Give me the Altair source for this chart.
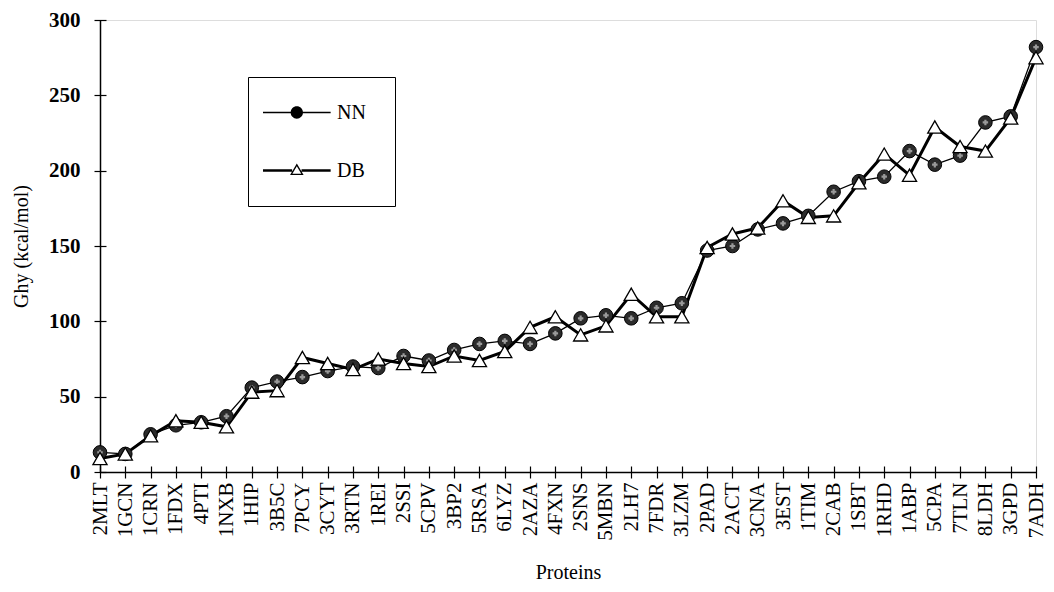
import altair as alt
import pandas as pd

proteins = ["2MLT", "1GCN", "1CRN", "1FDX", "4PTI", "1NXB", "1HIP", "3B5C", "7PCY", "3CYT",
            "3RTN", "1REI", "2SSI", "5CPV", "3BP2", "5RSA", "6LYZ", "2AZA", "4FXN", "2SNS",
            "5MBN", "2LH7", "7FDR", "3LZM", "2PAD", "2ACT", "3CNA", "3EST", "1TIM", "2CAB",
            "1SBT", "1RHD", "1ABP", "5CPA", "7TLN", "8LDH", "3GPD", "7ADH"]
nn_values = [13, 12, 25, 31, 33, 37, 56, 60, 63, 67,
             70, 69, 77, 74, 81, 85, 87, 85, 92, 102,
             104, 102, 109, 112, 147, 150, 161, 165, 170, 186,
             193, 196, 213, 204, 210, 232, 236, 282]
db_values = [9, 12, 24, 34, 33, 30, 53, 54, 76, 72,
             68, 75, 72, 70, 77, 74, 80, 96, 103, 91,
             97, 118, 103, 103, 149, 158, 162, 180, 169, 170,
             192, 211, 197, 229, 216, 213, 235, 275]
series_names = ["NN", "DB"]
y_ticks = [0, 50, 100, 150, 200, 250, 300]

rows = []
for p, a, b in zip(proteins, nn_values, db_values):
    rows.append({"protein": p, "series": "NN", "value": a})
    rows.append({"protein": p, "series": "DB", "value": b})
df = pd.DataFrame(rows)

FONT = "Liberation Serif"

x_scale = alt.Scale(type="point", padding=0, domain=proteins)
y_scale = alt.Scale(domain=[0, 300], nice=False, zero=True)

axis_x_main = alt.Axis(title="Proteins", labelAngle=270, ticks=False, tickSize=0, domain=True,
                       domainColor="black", domainWidth=1.5, labelFont=FONT, labelFontSize=21,
                       labelColor="black", labelPadding=10, titleFont=FONT, titleFontSize=20,
                       titleFontWeight="normal", titleColor="black", titlePadding=22, grid=False)
axis_x_ticks = alt.Axis(title=None, labels=False, domain=False, ticks=True, tickSize=12,
                        tickColor="black", tickWidth=1.2, offset=-6, grid=False, orient="bottom")
axis_y_main = alt.Axis(title="Ghy (kcal/mol)", values=y_ticks, ticks=False, tickSize=0, domain=True,
                       domainColor="black", domainWidth=1.5, labelFont=FONT, labelFontSize=21,
                       labelFontWeight="bold",
                       labelColor="black", labelPadding=20, titleFont=FONT, titleFontSize=20,
                       titleFontWeight="normal", titleColor="black", titlePadding=17, grid=False)
axis_y_ticks = alt.Axis(title=None, labels=False, domain=False, values=y_ticks, ticks=True,
                        tickSize=12, tickColor="black", tickWidth=1.2, offset=-6, grid=False,
                        orient="left")

base = alt.Chart(df)

nn_line = base.transform_filter("datum.series == 'NN'").mark_line(
    color="black", strokeWidth=1.3).encode(
    x=alt.X("protein:N", sort=proteins, scale=x_scale, axis=axis_x_main),
    y=alt.Y("value:Q", scale=y_scale, axis=axis_y_main),
)
db_line = base.transform_filter("datum.series == 'DB'").mark_line(
    color="black", strokeWidth=3).encode(
    x=alt.X("protein:N", sort=proteins, scale=x_scale, axis=axis_x_ticks),
    y=alt.Y("value:Q", scale=y_scale, axis=axis_y_ticks),
)
nn_pts = base.transform_filter("datum.series == 'NN'").mark_point(
    shape="circle", filled=True, fill="#2b2b2b", stroke="black", strokeWidth=1,
    size=185, opacity=1).encode(
    x=alt.X("protein:N", sort=proteins, scale=x_scale, axis=None),
    y=alt.Y("value:Q", scale=y_scale, axis=None),
)
nn_dots = base.transform_filter("datum.series == 'NN'").mark_point(
    shape="cross", filled=True, fill="#9a9a9a", strokeWidth=0, size=30, opacity=1).encode(
    x=alt.X("protein:N", sort=proteins, scale=x_scale, axis=None),
    y=alt.Y("value:Q", scale=y_scale, axis=None),
)
db_pts = base.transform_filter("datum.series == 'DB'").mark_point(
    shape="triangle-up", filled=True, fill="white", stroke="black", strokeWidth=1.3,
    size=200, opacity=1).encode(
    x=alt.X("protein:N", sort=proteins, scale=x_scale, axis=None),
    y=alt.Y("value:Q", scale=y_scale, axis=None),
)

# legend symbols (unit square paths): line segments + marker, all drawn as filled shapes
nn_path = ("M-1,-0.032L0.36,-0.032L0.36,0.032L-1,0.032Z"
           "M0.94,-0.032L2.3,-0.032L2.3,0.032L0.94,0.032Z"
           "M0.35,0A0.3,0.3 0 1,1 0.95,0A0.3,0.3 0 1,1 0.35,0Z"
           "M4.66,0L4.66,0")
db_path = ("M-1,-0.06L0.42,-0.06L0.42,0.06L-1,0.06Z"
           "M0.88,-0.06L2.3,-0.06L2.3,0.06L0.88,0.06Z"
           "M0.65,-0.34L0.98,0.22L0.32,0.22Z"
           "M0.65,-0.212L0.434,0.155L0.866,0.155Z"
           "M4.66,0.98L4.66,0.98")

legend_layer = base.transform_filter("false").mark_point(
    filled=True, color="black", opacity=1, strokeWidth=0).encode(
    shape=alt.Shape("series:N",
                    scale=alt.Scale(domain=series_names, range=[nn_path, db_path]),
                    legend=alt.Legend(
                        title=None, orient="none", legendX=148, legendY=57,
                        padding=15, strokeColor="black", fillColor="white",
                        symbolSize=1681, labelOffset=33, rowPadding=27,
                        symbolFillColor="black", symbolStrokeWidth=0,
                        symbolOpacity=1,
                        labelFont=FONT, labelFontSize=20, labelColor="black")),
)

chart = alt.layer(legend_layer, nn_line, db_line, nn_pts, nn_dots, db_pts).resolve_axis(
    x="independent", y="independent"
).properties(
    width=936, height=452,
    autosize=alt.AutoSizeParams(type="none"),
    padding={"left": 92, "top": 12, "right": 10, "bottom": 112},
).configure_view(stroke=None).configure(background="white")

chart.save("out.html", embed_options={"renderer": "svg", "actions": False})
